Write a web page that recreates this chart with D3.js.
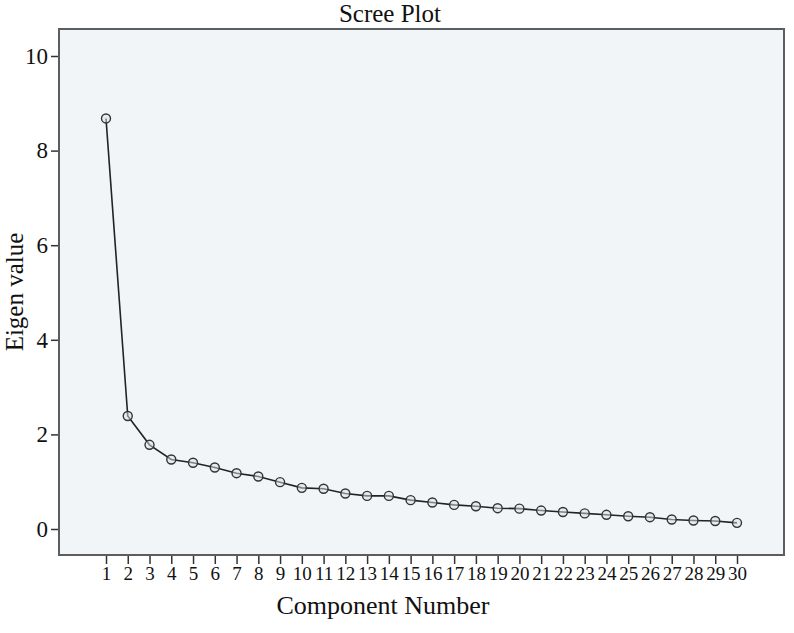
<!DOCTYPE html>
<html>
<head>
<meta charset="utf-8">
<script src="https://cdn.jsdelivr.net/npm/d3@7"></script>
<style>
  html, body { margin: 0; padding: 0; background: #fff; }
  svg { display: block; }
  text { font-family: "Liberation Serif", "DejaVu Serif", serif; fill: #111; }
</style>
</head>
<body>
<svg id="chart" width="794" height="633"></svg>
<script>
const components = d3.range(1, 31);
const eigenValues = [8.68, 2.39, 1.78, 1.47, 1.40, 1.30, 1.18, 1.11, 0.99, 0.87,
                     0.85, 0.75, 0.70, 0.70, 0.61, 0.56, 0.51, 0.48, 0.44, 0.43,
                     0.39, 0.36, 0.33, 0.30, 0.27, 0.25, 0.20, 0.18, 0.17, 0.13];
const yTicks = [0, 2, 4, 6, 8, 10];
const title = "Scree Plot";
const xLabel = "Component Number";
const yLabel = "Eigen value";

const svg = d3.select("#chart");
const frame = { left: 59, right: 784, top: 29, bottom: 555 };

const x = d3.scaleLinear().domain([1, 30]).range([106, 737]);
const y = d3.scaleLinear().domain([0, 10]).range([529, 56]);

// plot frame
svg.append("rect")
  .attr("x", frame.left).attr("y", frame.top)
  .attr("width", frame.right - frame.left)
  .attr("height", frame.bottom - frame.top)
  .attr("fill", "#f1f5f7")
  .attr("stroke", "#5a5e60")
  .attr("stroke-width", 2);

// y axis
const yAxis = d3.axisLeft(y).tickValues(yTicks).tickSize(7).tickPadding(3).tickFormat(d3.format("d"));
const gy = svg.append("g").attr("transform", `translate(${frame.left - 1},0)`).call(yAxis);
gy.select(".domain").remove();
gy.selectAll(".tick line").attr("stroke", "#333").attr("stroke-width", 1.5);
gy.selectAll(".tick text").style("font-size", "23px").attr("fill", "#111")
  .style("font-family", "Liberation Serif, serif");

// x axis
const xAxis = d3.axisBottom(x).tickValues(components).tickSize(8).tickPadding(3).tickFormat(d3.format("d"));
const gx = svg.append("g").attr("transform", `translate(0,${frame.bottom + 1})`).call(xAxis);
gx.select(".domain").remove();
gx.selectAll(".tick line").attr("stroke", "#333").attr("stroke-width", 1.5);
gx.selectAll(".tick text").style("font-size", "19px").attr("fill", "#111")
  .style("font-family", "Liberation Serif, serif");

// line
const line = d3.line().x((d, i) => x(components[i])).y(d => y(d));
svg.append("path")
  .datum(eigenValues)
  .attr("fill", "none")
  .attr("stroke", "#1f2424")
  .attr("stroke-width", 1.6)
  .attr("d", line);

// markers
svg.append("g").selectAll("circle")
  .data(eigenValues)
  .join("circle")
  .attr("cx", (d, i) => x(components[i]))
  .attr("cy", d => y(d))
  .attr("r", 4.5)
  .attr("fill", "#dde2e3")
  .attr("fill-opacity", 0.5)
  .attr("stroke", "#2f3434")
  .attr("stroke-width", 1.4);

// title
svg.append("text")
  .attr("x", 390).attr("y", 22)
  .attr("text-anchor", "middle")
  .style("font-size", "25px")
  .text(title);

// x label
svg.append("text")
  .attr("x", 383).attr("y", 614)
  .attr("text-anchor", "middle")
  .style("font-size", "26px")
  .text(xLabel);

// y label
svg.append("text")
  .attr("transform", "translate(23,292) rotate(-90)")
  .attr("text-anchor", "middle")
  .style("font-size", "25px")
  .text(yLabel);
</script>
</body>
</html>
